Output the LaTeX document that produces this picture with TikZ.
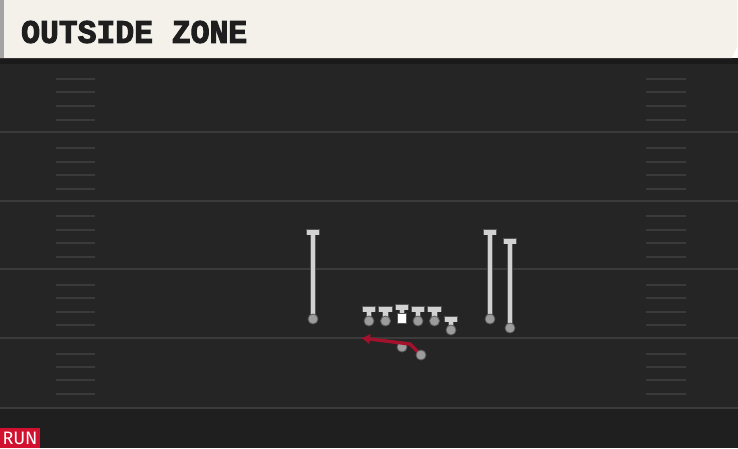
\documentclass[tikz,border=0pt]{standalone}
\usepackage{fontspec}
\usetikzlibrary{arrows.meta}
\definecolor{cream}{HTML}{F3F1EA}
\definecolor{field}{HTML}{252525}
\definecolor{fieldlow}{HTML}{1F1F1F}
\definecolor{band}{HTML}{1A1A1A}
\definecolor{yline}{HTML}{3B3B3B}
\definecolor{hashc}{HTML}{3A3A3A}
\definecolor{ply}{HTML}{D2D2D2}
\definecolor{plyedge}{HTML}{555555}
\definecolor{dotc}{HTML}{9C9C9C}
\definecolor{dotedge}{HTML}{5C5C5C}
\definecolor{routec}{HTML}{A3122C}
\definecolor{runred}{HTML}{D1112F}
\definecolor{titlec}{HTML}{1E1E1E}
\definecolor{stripe}{HTML}{A4A4A4}
\newfontfamily\titlefont[RawFeature={embolden=3}]{Liberation Mono Bold}
\newfontfamily\runfont{Fira Sans}
\newcommand\plyr[4]{% name, x, bar top y, dot y
  \fill[plyedge] (#2-7.2,#3-0.7) rectangle (#2+7.2,#3+5.3);
  \draw[line width=6.2pt, plyedge] (#2,#3+2) -- (#2,#4);
  \fill[ply] (#2-6.4,#3) rectangle (#2+6.4,#3+4.6);
  \draw[line width=4.6pt, ply] (#2,#3+2) -- (#2,#4);
  \node[dot] (#1) at (#2,#4) {};
}
\begin{document}
\begin{tikzpicture}[x=1pt,y=-1pt,
  dot/.style={circle,fill=dotc,draw=dotedge,line width=0.8pt,minimum size=10pt,inner sep=0pt},
  yardline/.style={yline,line width=2pt},
  hashmark/.style={hashc,line width=2pt},
  routeline/.style={routec,line width=3.4pt,line join=round,-{Latex[length=9pt,width=11pt]}}]
\useasboundingbox (0,0) rectangle (738,448);
% field
\fill[field] (0,58) rectangle (738,448);
\fill[fieldlow] (0,408) rectangle (738,448);
\fill[band] (0,58) rectangle (738,64);
% header
\fill[cream] (0,0) -- (737,0) -- (737,47) -- (732,58) -- (0,58) -- cycle;
\fill[stripe] (0,0) rectangle (4,58);
\node[anchor=west,inner sep=0pt,text=titlec] (title) at (21,32)
  {\resizebox{226pt}{22pt}{\titlefont OUTSIDE ZONE}};
% yard lines
\foreach \y in {132,201,269,338,408} \draw[yardline] (0,\y) -- (738,\y);
% hash marks
\foreach \y in {79,92,106,120,148,162,175,189,216,230,243,257,285,298,312,325,354,367,380,394} {
  \draw[hashmark] (56,\y) -- (95,\y);
  \draw[hashmark] (646,\y) -- (686,\y);
}
% players
\plyr{wrl}{313}{230}{319}
\plyr{lt}{369}{307}{321}
\plyr{lg}{385.5}{307}{321}
\plyr{rg}{418}{307}{321}
\plyr{rt}{434.5}{307}{321}
\plyr{te}{451}{317}{330}
\plyr{wrr}{490}{230}{319}
\plyr{slot}{510}{239}{328}
% center
\fill[plyedge] (394.8,304.3) rectangle (409.2,310.3);
\draw[line width=6.2pt, plyedge] (402,308) -- (402,313);
\fill[ply] (395.6,305) rectangle (408.4,309.6);
\draw[line width=4.6pt, ply] (402,308) -- (402,313.5);
\node[fill=white,draw=plyedge,line width=0.8pt,minimum width=9.5pt,minimum height=10pt,inner sep=0pt] (ctr) at (402,318.5) {};
% backfield
\node[dot] (qb) at (402,347) {};
\coordinate (rbpos) at (421,355);
\coordinate (rbend) at (410,344);
\coordinate (rtip) at (361,338);
\draw[routeline] (rbpos) -- (rbend) -- (rtip);
\node[dot] (rb) at (rbpos) {};
% run tag
\fill[runred] (0,428) rectangle (40,448);
\node[text=white,inner sep=0pt,font=\runfont\fontsize{18}{18}\selectfont] (run) at (20,438.5) {RUN};
\end{tikzpicture}
\end{document}
